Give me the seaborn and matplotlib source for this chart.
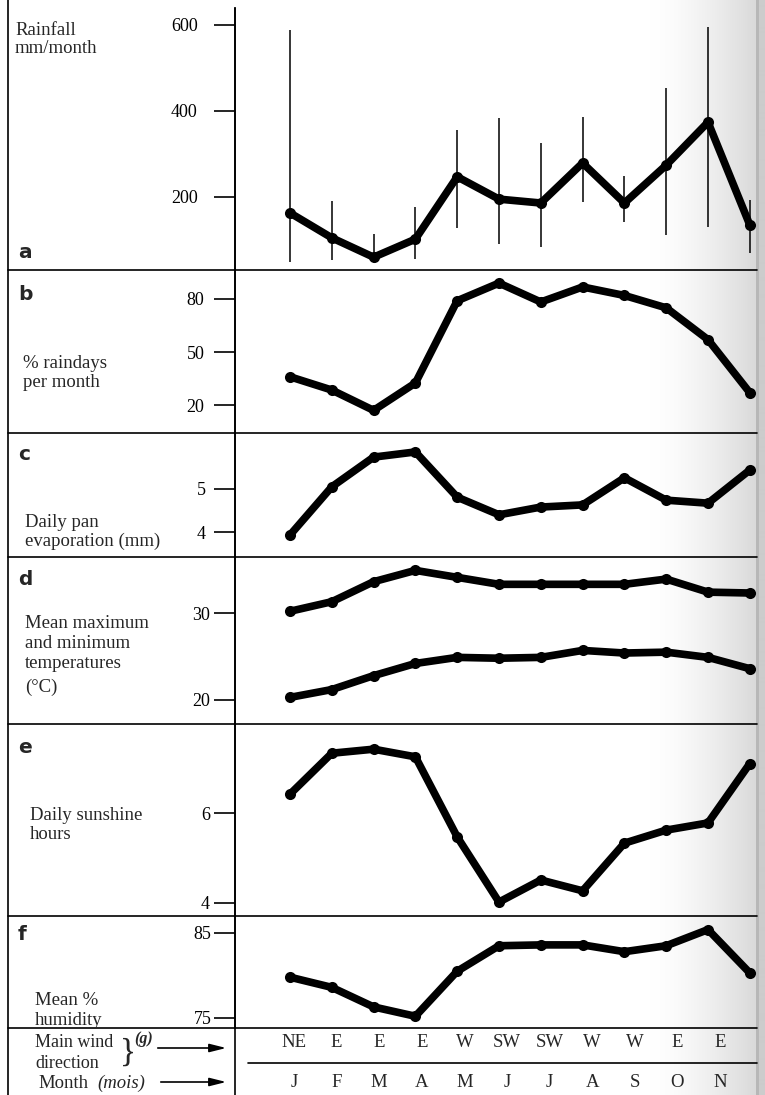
import numpy as np
import pandas as pd
import matplotlib
matplotlib.use("Agg")
import matplotlib.pyplot as plt
import seaborn as sns

# ---------------- data ----------------
months = ["J", "F", "M", "A", "M", "J", "J", "A", "S", "O", "N", "D"]
month_labels = ["J", "F", "M", "A", "M", "J", "J", "A", "S", "O", "N"]
wind = ["NE", "E", "E", "E", "W", "SW", "SW", "W", "W", "E", "E"]

rain = [163, 105, 60, 102, 247, 195, 186, 279, 186, 274, 374, 135]
rain_low = [49, 53, 49, 56, 128, 91, 84, 188, 142, 112, 130, 70]
rain_high = [588, 191, 114, 177, 356, 384, 326, 386, 249, 454, 595, 193]
raindays = [36, 28.5, 17, 32.5, 79, 89, 78.3, 86.8, 82, 75, 57, 27]
evap = [3.93, 5.05, 5.74, 5.86, 4.81, 4.40, 4.58, 4.63, 5.26, 4.74, 4.67, 5.44]
tmax = [30.2, 31.3, 33.6, 34.9, 34.1, 33.3, 33.3, 33.3, 33.3, 33.9, 32.4, 32.3]
tmin = [20.3, 21.2, 22.8, 24.2, 24.9, 24.8, 24.9, 25.7, 25.4, 25.5, 24.9, 23.6]
sunshine = [6.42, 7.33, 7.42, 7.25, 5.47, 4.02, 4.51, 4.27, 5.33, 5.62, 5.78, 7.1]
humidity = [79.8, 78.6, 76.3, 75.2, 80.5, 83.5, 83.6, 83.6, 82.8, 83.5, 85.4, 80.3]

rain_ticks = [200, 400, 600]
raindays_ticks = [20, 50, 80]
evap_ticks = [4, 5]
temp_ticks = [20, 30]
sun_ticks = [4, 6]
hum_ticks = [75, 85]

# ---------------- style ----------------
sns.set_style("white")
plt.rcParams["font.family"] = ["Liberation Serif", "DejaVu Serif"]

W, H = 765, 1095
fig = plt.figure(figsize=(W / 100, H / 100), dpi=100, facecolor="white")

# canvas in pixel coordinates for frame / text
canvas = fig.add_axes([0, 0, 1, 1], zorder=0)
px = np.arange(W)
t = np.clip((px - 650) / 106.0, 0, 1)
g = 1 - 0.15 * t ** 1.5
g[px >= 756] = 0.80
g[(px >= 756) & (px < 759)] = 0.72
img = np.repeat(np.stack([g, g, g], axis=-1)[None, :, :], 2, axis=0)
canvas.imshow(img, extent=(0, W, H, 0), aspect="auto", interpolation="bilinear")
canvas.set_xlim(0, W)
canvas.set_ylim(H, 0)
canvas.axis("off")

AX_L = 235
X0, DX = 290, 41.8
xlim = ((AX_L - X0) / DX, (W - X0) / DX)
idx = np.arange(len(months))

def panel(top, bottom, ylim, ticks, pad):
    ax = fig.add_axes([AX_L / W, 1 - bottom / H, (W - AX_L) / W, (bottom - top) / H], zorder=2)
    ax.set_facecolor("none")
    ax.set_xlim(*xlim)
    ax.set_ylim(*ylim)
    for s in ["top", "right", "bottom"]:
        ax.spines[s].set_visible(False)
    ax.spines["left"].set_linewidth(1.2)
    ax.spines["left"].set_color("black")
    ax.set_xticks([])
    ax.set_yticks(ticks)
    ax.tick_params(axis="y", direction="out", length=15, width=1.2, pad=pad,
                   labelsize=13, colors="black", left=True)
    return ax

def draw(ax, vals):
    df = pd.DataFrame({"m": idx, "v": vals})
    sns.lineplot(data=df, x="m", y="v", ax=ax, color="black", linewidth=5.5,
                 marker="o", markersize=8, markeredgewidth=0,
                 solid_joinstyle="round", solid_capstyle="round")
    ax.set_xlabel("")
    ax.set_ylabel("")
    ax.set_xlim(*xlim)

# a rainfall
ax_a = panel(8, 270, (30.2, 639.5), rain_ticks, 12)
ax_a.vlines(idx, rain_low, rain_high, color="black", linewidth=1.1)
draw(ax_a, rain)
# b raindays
ax_b = panel(270, 433, (4.2, 96.4), raindays_ticks, 7)
draw(ax_b, raindays)
# c evaporation
ax_c = panel(433, 557, (3.42, 6.30), evap_ticks, 6)
draw(ax_c, evap)
# d temperatures
ax_d = panel(557, 724, (17.24, 36.44), temp_ticks, 3)
draw(ax_d, tmax)
draw(ax_d, tmin)
# e sunshine
ax_e = panel(724, 916, (3.71, 7.98), sun_ticks, 3)
draw(ax_e, sunshine)
# f humidity
ax_f = panel(916, 1028, (73.82, 87.0), hum_ticks, 2)
draw(ax_f, humidity)

for ax in [ax_a, ax_b, ax_c, ax_d, ax_e, ax_f]:
    ax.set_xticks([])
    for lab in ax.get_yticklabels():
        lab.set_fontfamily(["Liberation Serif", "DejaVu Serif"])

# wind / month rows
LX0, LDX = 294, 42.6
ax_l = fig.add_axes([AX_L / W, 0, (W - AX_L) / W, (H - 1028) / H], zorder=2)
ax_l.set_facecolor("none")
ax_l.set_xlim((AX_L - LX0) / LDX, (W - LX0) / LDX)
ax_l.set_ylim(H, 1028)
ax_l.axis("off")
for i, s in enumerate(wind):
    ax_l.text(i, 1047, s, ha="center", va="baseline", fontsize=13.5)
for i, s in enumerate(month_labels):
    ax_l.text(i, 1087, s, ha="center", va="baseline", fontsize=13.5)

# frame lines
lc = "black"
canvas.plot([8, 8], [0, H], color=lc, lw=1.2)
canvas.plot([AX_L, AX_L], [8, H], color=lc, lw=1.2)
for y in [270, 433, 557, 724, 916, 1028]:
    canvas.plot([8, 757], [y, y], color=lc, lw=1.2)
canvas.plot([248, 757], [1063, 1063], color=lc, lw=1.2)

# left texts
FS = 13.5
def txt(x, y, s, **kw):
    kw.setdefault("fontsize", FS)
    canvas.text(x, y, s, ha="left", va="baseline", **kw)

letter_kw = dict(fontsize=14.5, fontweight="bold", family=["DejaVu Sans"])
txt(18, 258, "a", **letter_kw)
txt(18, 300, "b", **letter_kw)
txt(18, 460, "c", **letter_kw)
txt(18, 585, "d", **letter_kw)
txt(18, 753, "e", **letter_kw)
txt(18, 940, "f", **letter_kw)

txt(15, 35, "Rainfall")
txt(15, 53, "mm/month")
txt(23, 368, "% raindays")
txt(23, 387, "per month")
txt(25, 527, "Daily pan")
txt(25, 546, "evaporation (mm)")
txt(25, 628, "Mean maximum")
txt(25, 648, "and minimum")
txt(25, 668, "temperatures")
txt(25, 692, "(°C)")
txt(30, 820, "Daily sunshine")
txt(30, 839, "hours")
txt(35, 1005, "Mean %")
txt(35, 1025, "humidity")
txt(35, 1047, "Main wind", fontsize=13)
txt(35, 1068, "direction", fontsize=13)
txt(38, 1088, "Month")
canvas.text(120, 1053, "}", ha="left", va="center", fontsize=24)
txt(134, 1043, "(g)", fontsize=11.5, style="italic", fontweight="bold")
txt(97, 1088, "(mois)", fontsize=13.5, style="italic")

arrow_kw = dict(arrowstyle="-|>,head_length=1.0,head_width=0.25", color="black", lw=1.2)
canvas.annotate("", xy=(229, 1048), xytext=(155, 1048), arrowprops=arrow_kw)
canvas.annotate("", xy=(229, 1082), xytext=(158, 1082), arrowprops=arrow_kw)

fig.savefig("out.png", dpi=100, facecolor="white")
